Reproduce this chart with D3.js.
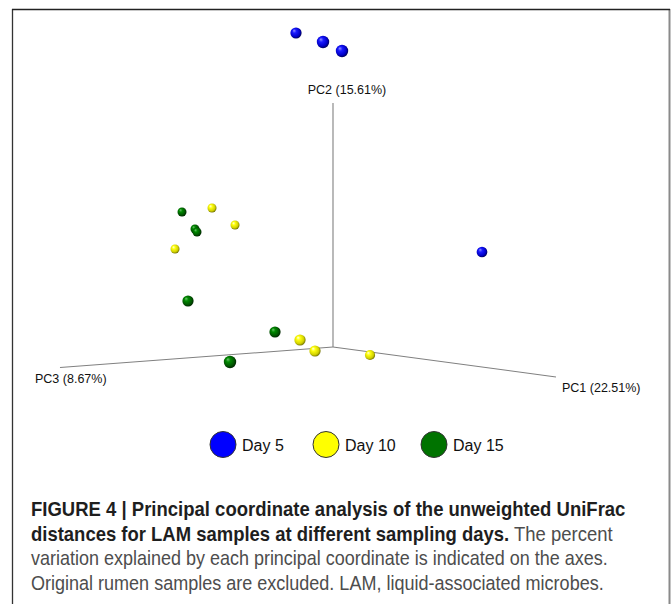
<!DOCTYPE html>
<html>
<head>
<meta charset="utf-8">
<script src="https://cdn.jsdelivr.net/npm/d3@7"></script>
<style>
  body { margin: 0; background: #fff; }
  svg { display: block; font-family: "Liberation Sans", Arial, sans-serif; }
</style>
</head>
<body>
<div class="chart"></div>
<script>
// PCoA samples, in projected view units (screen plane of the 3D plot)
var groups = ['Day 5', 'Day 10', 'Day 15'];
var sampleGroup = [0, 0, 0, 0, 1, 1, 1, 1, 1, 1, 2, 2, 2, 2, 2, 2];
var viewX = [-0.148, -0.04, 0.036, 0.596, -0.484, -0.392, -0.632, -0.132, -0.072, 0.148, -0.604, -0.552, -0.544, -0.58, -0.232, -0.412];
var viewY = [1.256, 1.22, 1.184, 0.38, 0.556, 0.488, 0.392, 0.028, -0.016, -0.032, 0.54, 0.472, 0.46, 0.184, 0.06, -0.06];
var depth = [0.65, 1.0, 1.0, 0.5, 0, 0, 0, 0.65, 0.65, 0.35, 0, 0, 0, 0.65, 0.65, 1.0];

// axis end points in the same view units
var axisNames = ['PC1 (22.51%)', 'PC2 (15.61%)', 'PC3 (8.67%)'];
var axisEndX = [0.892, 0, -1.092];
var axisEndY = [-0.12, 0.976, -0.082];

var captionLines = [
  [['FIGURE 4 | Principal coordinate analysis of the unweighted UniFrac', true]],
  [['distances for LAM samples at different sampling days.', true], [' The percent', false]],
  [['variation explained by each principal coordinate is indicated on the axes.', false]],
  [['Original rumen samples are excluded. LAM, liquid-associated microbes.', false]]
];

var W = 672, H = 604;
var palette = [
  {base: '#0000ff', stops: ['#9090ff', '#1a1aff', '#0000c8', '#00003a']},
  {base: '#ffff00', stops: ['#ffffe8', '#ffff10', '#d0d000', '#5a5a00']},
  {base: '#007300', stops: ['#6cc06c', '#008a00', '#005400', '#001a00']}
];

var x = d3.scaleLinear().domain([0, 1]).range([333, 583]);
var y = d3.scaleLinear().domain([0, 1]).range([347, 97]);
var r = d3.scaleLinear().domain([0, 1]).range([4.5, 6.2]);

var svg = d3.select('.chart').append('svg')
  .attr('width', W)
  .attr('height', H);

var defs = svg.append('defs');
palette.forEach(function(p, i) {
  var g = defs.append('radialGradient')
    .attr('id', 'ball' + i)
    .attr('cx', '45%').attr('cy', '45%').attr('r', '60%')
    .attr('fx', '32%').attr('fy', '28%');
  [0, 0.3, 0.72, 1].forEach(function(o, k) {
    g.append('stop').attr('offset', o).attr('stop-color', p.stops[k]);
  });
});

// frame
svg.append('line').attr('x1', 12.5).attr('x2', 12.5).attr('y1', 9).attr('y2', H)
  .attr('stroke', '#333').attr('stroke-width', 1.3);
svg.append('line').attr('x1', 669.5).attr('x2', 669.5).attr('y1', 9).attr('y2', H)
  .attr('stroke', '#8a8a8a').attr('stroke-width', 2);
svg.append('line').attr('x1', 12).attr('x2', 670).attr('y1', 9.5).attr('y2', 9.5)
  .attr('stroke', '#222').attr('stroke-width', 1.3);

// axes
var axes = svg.append('g');
axes.selectAll('line')
  .data(axisNames)
  .enter().append('line')
    .attr('x1', x(0)).attr('y1', y(0))
    .attr('x2', (d, i) => x(axisEndX[i]))
    .attr('y2', (d, i) => y(axisEndY[i]))
    .attr('stroke', '#808080')
    .attr('stroke-width', 1.1);

var labelOffset = [[6, 15, 'start'], [14, -9, 'middle'], [-25, 15, 'start']];
axes.selectAll('text')
  .data(axisNames)
  .enter().append('text')
    .attr('x', (d, i) => x(axisEndX[i]) + labelOffset[i][0])
    .attr('y', (d, i) => y(axisEndY[i]) + labelOffset[i][1])
    .attr('text-anchor', (d, i) => labelOffset[i][2])
    .attr('font-size', 12.5)
    .attr('fill', '#111')
    .text(d => d);

// samples, far ones first
var order = d3.range(viewX.length).sort((a, b) => depth[a] - depth[b]);
svg.append('g').selectAll('circle')
  .data(order)
  .enter().append('circle')
    .attr('cx', i => x(viewX[i]))
    .attr('cy', i => y(viewY[i]))
    .attr('r', i => r(depth[i]))
    .attr('fill', i => 'url(#ball' + sampleGroup[i] + ')');

// legend
var legendX = [223, 326, 434];
var legend = svg.append('g').selectAll('g')
  .data(groups)
  .enter().append('g')
    .attr('transform', (d, i) => `translate(${legendX[i]}, 444.5)`);
legend.append('circle')
  .attr('r', 13)
  .attr('fill', (d, i) => palette[i].base)
  .attr('stroke', '#333')
  .attr('stroke-width', 1);
legend.append('text')
  .attr('x', 19)
  .attr('y', 6)
  .attr('font-size', 16)
  .attr('fill', '#111')
  .text(d => d);

// caption
var captionEnd = [626, 613, 608, 604];
var caption = svg.append('g');
captionLines.forEach(function(parts, i) {
  var t = caption.append('text')
    .attr('font-size', 19.5);
  parts.forEach(function(p) {
    t.append('tspan')
      .attr('font-weight', p[1] ? 'bold' : 'normal')
      .attr('fill', p[1] ? '#1e1e1e' : '#4d4d4d')
      .text(p[0]);
  });
  var len = t.node().getComputedTextLength();
  var sx = (captionEnd[i] - 31) / len;
  t.attr('transform', `translate(31, ${516 + i * 24.5}) scale(${sx}, 1)`);
});
</script>
</body>
</html>
